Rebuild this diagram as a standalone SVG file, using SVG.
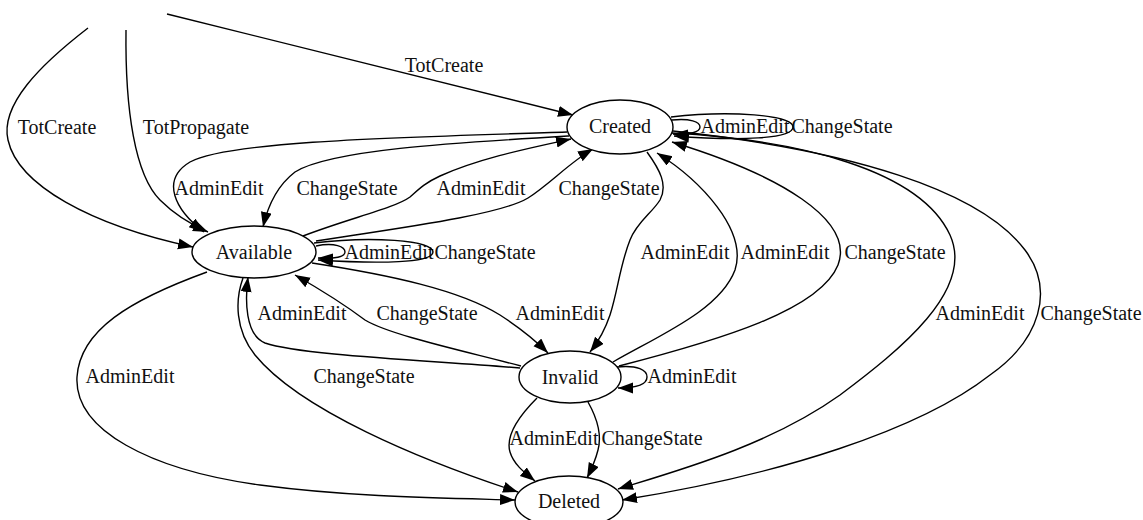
<svg xmlns="http://www.w3.org/2000/svg" width="1143" height="520" viewBox="0 0 1143 520">
<style>
.n{fill:#fff;stroke:#000;stroke-width:1.4}
.e{fill:none;stroke:#000;stroke-width:1.4}
text{font-family:"Liberation Serif","Times New Roman",serif;font-size:20px;fill:#111;text-anchor:middle}
</style>
<defs>
<marker id="arr" markerWidth="17" markerHeight="13" refX="15" refY="5.5" orient="auto" markerUnits="userSpaceOnUse"><path d="M0,0 L15,5.5 L0,11 z" fill="#000"/></marker>
</defs>
<g id="edges">
<path class="e" marker-end="url(#arr)" d="M167,14 L573,115"/>
<text x="444" y="72">TotCreate</text>
<path class="e" marker-end="url(#arr)" d="M88,28 C40,65 0,105 8,140 C18,185 90,225 193,247"/>
<text x="57" y="134">TotCreate</text>
<path class="e" marker-end="url(#arr)" d="M126,30 C125,110 135,175 160,200 C175,215 192,225 208,232"/>
<text x="196" y="134">TotPropagate</text>
<path class="e" marker-end="url(#arr)" d="M567,132 C420,137 230,140 190,162 C160,180 175,210 204,232"/>
<text x="219" y="195">AdminEdit</text>
<path class="e" marker-end="url(#arr)" d="M569,136 C450,143 330,150 295,172 C278,185 268,205 263,227"/>
<text x="347" y="195">ChangeState</text>
<path class="e" marker-end="url(#arr)" d="M303,236 C350,218 395,208 410,197 C420,188 425,183 440,176 C480,158 530,148 571,139"/>
<text x="481" y="195">AdminEdit</text>
<path class="e" marker-end="url(#arr)" d="M316,241 C400,228 500,215 528,198 C550,184 570,162 593,149"/>
<text x="609" y="195">ChangeState</text>
<path class="e" marker-end="url(#arr)" d="M672,120 C690,118 700,122 700,127 C700,132 690,135 673,134"/>
<text x="745" y="133">AdminEdit</text>
<path class="e" marker-end="url(#arr)" d="M671,117 C730,110 793,115 793,127 C793,139 740,141 674,136"/>
<text x="842" y="133">ChangeState</text>
<path class="e" marker-end="url(#arr)" d="M647,152 C660,170 668,185 660,200 C652,213 637,222 630,240 C620,265 618,290 610,315 C605,330 598,342 590,352"/>
<text x="685" y="259">AdminEdit</text>
<path class="e" marker-end="url(#arr)" d="M613,362 C660,335 720,310 735,270 C748,230 700,180 657,153"/>
<text x="785" y="259">AdminEdit</text>
<path class="e" marker-end="url(#arr)" d="M619,366 C720,340 820,310 838,265 C855,220 780,175 672,142"/>
<text x="895" y="259">ChangeState</text>
<path class="e" marker-end="url(#arr)" d="M672,133 C800,140 920,170 950,235 C975,290 900,350 840,395 C770,445 680,470 618,489"/>
<text x="980" y="320">AdminEdit</text>
<path class="e" marker-end="url(#arr)" d="M673,131 C850,150 980,190 1025,250 C1055,290 1040,340 990,375 C920,430 780,475 622,500"/>
<text x="1091" y="320">ChangeState</text>
<path class="e" marker-end="url(#arr)" d="M316,246 C335,242 345,247 345,252 C345,257 335,259 318,258"/>
<text x="389" y="259">AdminEdit</text>
<path class="e" marker-end="url(#arr)" d="M314,243 C370,236 433,240 433,252 C433,263 380,264 318,260"/>
<text x="485" y="259">ChangeState</text>
<path class="e" marker-end="url(#arr)" d="M312,263 C390,275 460,290 500,315 C520,328 535,340 548,353"/>
<text x="560" y="320">AdminEdit</text>
<path class="e" marker-end="url(#arr)" d="M520,368 C420,360 300,355 265,343 C245,335 245,300 248,277"/>
<text x="302" y="320">AdminEdit</text>
<path class="e" marker-end="url(#arr)" d="M521,366 C460,350 390,335 365,320 C345,305 330,295 295,275"/>
<text x="427" y="320">ChangeState</text>
<path class="e" marker-end="url(#arr)" d="M207,272 C130,300 80,330 77,377 C74,430 150,470 260,485 C350,497 440,498 515,500"/>
<text x="130" y="383">AdminEdit</text>
<path class="e" marker-end="url(#arr)" d="M243,278 C235,300 235,330 255,355 C300,410 420,460 518,492"/>
<text x="364" y="383">ChangeState</text>
<path class="e" marker-end="url(#arr)" d="M617,367 C638,365 647,370 647,377 C647,384 637,388 618,388"/>
<text x="692" y="383">AdminEdit</text>
<path class="e" marker-end="url(#arr)" d="M537,398 C520,415 505,435 510,452 C514,465 525,473 535,481"/>
<text x="554" y="445">AdminEdit</text>
<path class="e" marker-end="url(#arr)" d="M588,402 C597,418 602,435 598,450 C595,462 591,470 587,478"/>
<text x="652" y="445">ChangeState</text>
</g>
<g id="node-created"><ellipse class="n" cx="620" cy="127" rx="53" ry="27"/><text x="620" y="133">Created</text></g>
<g id="node-available"><ellipse class="n" cx="254" cy="252" rx="62" ry="26"/><text x="254" y="259">Available</text></g>
<g id="node-invalid"><ellipse class="n" cx="570" cy="377" rx="51" ry="26"/><text x="570" y="384">Invalid</text></g>
<g id="node-deleted"><ellipse class="n" cx="569" cy="502" rx="54" ry="26"/><text x="569" y="508">Deleted</text></g>
</svg>
